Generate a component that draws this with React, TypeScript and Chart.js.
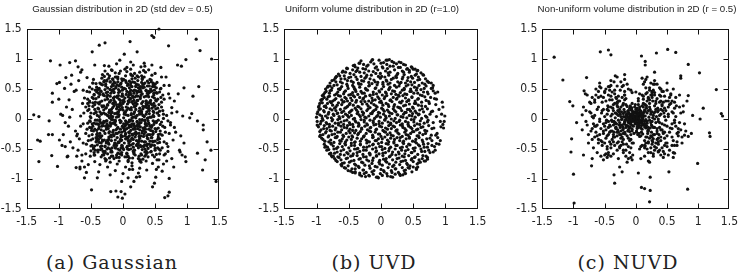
import React, { useEffect, useRef } from "react";
import { Chart, registerables } from "chart.js";

Chart.register(...registerables);

// ---------- data (hundredths, flat x,y pairs) ----------
const tickValues = [-1.5, -1, -0.5, 0, 0.5, 1, 1.5];
const tickLabels = ["-1.5", "-1", "-0.5", "0", "0.5", "1", "1.5"];
const titles = [
  "Gaussian distribution in 2D (std dev = 0.5)",
  "Uniform volume distribution in 2D (r=1.0)",
  "Non-uniform volume distribution in 2D (r = 0.5)",
];
const captions = ["(a) Gaussian", "(b) UVD", "(c) NUVD"];

const gaussianXY = [
  56,150, 45,139, 48,136, 11,129, -28,127, -37,123, -48,112, 2,108, 22,112, 71,122,
  114,133, 120,114, 138,100, -113,97, -98,90, -83,94, -74,97, -80,73, -64,82, -110,28,
  -100,33, -110,43, -103,59, -99,61, -91,51, -89,69, -139,7, -131,4, -97,8, -83,3,
  98,99, 91,88, 85,90, 118,54, 109,38, 95,52,
  -133,-35, -129,-37, -131,-71, -115,-3, -116,-26, -110,-26, -111,-61, -102,-79, -99,-35, -95,-44,
  -90,-46, -87,-63, -73,-81, -67,-80, -60,-98, -57,-89, -49,-118, -40,-98, -19,-121, -11,-120,
  -3,-121, -8,-130, -1,-132, 3,-125, -2,-104, 12,-113, 17,-104, 21,-97, 26,-96, 37,-85,
  46,-113, 49,-107, 51,-97, 65,-131, 70,-128, 72,-122, 72,-99, 89,-55, 92,-60, 97,-63,
  98,-71, 116,-57, 124,-85, 128,-68, 137,-52, 131,-38, 145,-104, 125,-10, 125,-18, 116,-3,
  104,2, 107,9,
  12,34, -23,5, 45,-12, -8,67, 31,21, -41,-33, 5,-6, 18,48, -55,14, 27,-44,
  -14,22, 63,8, -3,-27, 38,55, -29,71, 9,-51, 52,30, -62,-8, 16,3, -36,41,
  0,15, 44,-31, -18,-62, 71,42, -47,27, 23,-9, -9,38, 35,78, -71,-25, 57,-58,
  8,58, -25,-14, 29,12, -52,53, 66,-22, -12,-41, 42,66, -39,-52, 14,-73, 76,19,
  -5,-2, 19,27, -33,9, 48,4, -20,49, 3,83, -60,35, 33,-38, -15,-19, 59,51,
  24,-66, -44,-71, 11,45, -28,32, 49,-5, -7,12, 68,-41, -57,-42, 37,24, -1,-45,
  15,62, -38,17, 53,-68, -66,5, 6,-16, 28,87, -24,-35, 40,37, -49,-15, 21,-24,
  -11,54, 62,14, -31,-7, 2,29, 45,73, -56,69, -19,-55, 30,-1, -73,48, 13,9,
  7,-32, -27,58, 55,-26, -43,-2, 20,16, -6,76, 39,-49, -64,-60, 47,60, -16,4,
  34,-14, -53,22, 10,-84, 64,33, -35,-29, 26,50, -2,-22, 50,-37, -22,88, 17,-58,
  -9,20, 5,7, 22,-4, -17,11, 13,19, -4,31, 31,6, -26,-3, 9,40, 18,-15,
  -13,-8, 27,37, -21,28, 3,-12, 40,18, -34,-18, 11,-37, -7,44, 25,-29, -30,62,
  36,47, -46,-48, 58,-9, -10,-64, 43,26, -40,6, 1,51, 16,-47, -24,-58, 61,-48,
  -58,-24, 32,81, -16,67, 54,18, -3,-36, 7,25, -51,-62, 70,-3, -28,-45, 19,68,
  46,-20, -37,-39, 4,-3, 29,-60, -12,77, 41,9, -68,-33, 14,-25, -45,40, 60,28,
  -20,-6, 8,-69, 37,-45, -32,74, 52,44, -8,-14, 23,31, -55,-7, 0,-49, 33,70,
  -42,12, 17,-11, -26,19, 49,-63, -6,55, 26,-18, -63,26, 39,2, -14,-28, 12,83,
  65,-14, -50,-53, 21,58, -35,47, 6,-58, 44,-54, -18,3, 57,-33, -29,89, 10,-2,
  -61,10, 35,-9, -1,64, 24,-37, -41,-26, 53,61, -15,35, 28,-72, -54,-36, 74,-10,
  3,-19, -23,-48, 47,13, -47,60, 15,-84, -33,-12, 42,-26, -9,-75, 30,42, -70,-52,
  78,-35, -79,16, 84,12, -82,-38, 63,-75, -64,-70, 72,56, -76,46, 55,-80, -85,-12,
  80,30, -72,-62, 88,-52, -88,20, 67,70, -66,78, 82,-22, -78,-48, 59,86, -60,-80,
  76,-66, -90,-6, 93,5, -69,64, 70,-46, -84,32, 86,42, -74,-20, 64,-60, -81,58,
  90,-28, -93,-26, 73,35, -86,-62, 79,-80, -70,87, 61,-87, -67,-83, 95,-40, -94,6,
  0,-91, 12,95, -20,-93, 33,93, -38,-88, 45,90, -44,90, 24,-90, -5,98, 8,-98,
  2,10, -6,24, 14,2, -12,-4, 20,22, -2,38, 10,-10, -18,16, 28,14, 6,46,
  -10,3, 16,36, -24,40, 34,-2, -4,-6, 24,52, -30,10, 8,18, -16,-22, 36,30,
  0,26, 20,-26, -22,-30, 12,60, -36,28, 30,-20, -8,-40, 48,40, -40,-8, 4,72,
  26,8, -14,50, 38,-32, -28,-24, 18,-52, -42,34, 50,-16, -10,70, 22,44, -32,-60,
  44,-44, -20,62, 6,-30, 32,58, -46,-20, 14,28, -26,-68, 56,6, -2,-56, 40,-8,
  -8,8, 18,12, -20,-12, 10,32, 26,-6, -30,22, 4,-24, 34,20, -14,44, 16,-34,
  -36,-4, 28,46, -4,58, 42,-12, -18,-36, 22,-42, -48,50, 8,-62, 46,54, -38,-34,
  12,-50, -44,16, 54,-40, -24,6, 30,66, -6,-70, 40,46, -52,-14, 18,76, -12,-48,
  58,-20, -34,58, 24,-12, -16,26, 46,-60, -28,-54, 36,8, -50,2, 2,-16, 62,40,
  -4,16, 14,54, -26,-40, 38,-56, -40,48, 10,-44, 50,22, -20,-72, 28,-46, -56,46,
  6,86, 16,90, -10,92, 26,78, 40,82, -18,82, 50,76, -28,80, 34,88, 60,70,
  4,64, -4,80, 22,72, 44,62, -12,60, 12,48, 30,54, -22,68, 52,52, 64,56,
  -46,66, -52,28, -58,20, -62,48, -66,-12, -72,-28, -58,-58, 66,-58, 72,-24, 68,6,
  74,-6, 80,-14, 76,10, 64,-38, 58,-52, -44,-60, -36,-76, -24,-80, -12,-86, 4,-80,
  14,-78, 26,-82, 36,-70, 46,-74, 56,-68, -54,-76, -62,-40, 70,-54, 68,-70, 52,-84,
  3,12, -14,31, 22,-5, -27,18, 9,44, 35,-17, -6,-22, 16,25, -38,-9, 28,40,
  -19,6, 40,15, -2,-35, 13,-13, -31,42, 52,-6, 7,56, -44,24, 24,-40, -10,17,
  31,29, -23,-16, 1,2, 46,37, -35,-31, 18,61, -51,4, 37,-28, -15,49, 6,-47,
  -4,27, 26,9, -29,-5, 11,35, 43,-19, -18,54, 60,20, -40,-43, 20,-22, -8,70,
  15,-3, -33,30, 49,48, -12,-48, 33,5, -48,-26, 5,20, 38,63, -25,65, 57,-39,
  -1,-12, 21,47, -42,11, 10,-28, 32,-45, -20,38, 54,33, -9,-31, 44,3, -55,33,
  8,30, -26,-38, 35,21, -16,-7, 62,-12, -37,51, 17,-8, -5,46, 28,-58, -47,-12,
  41,55, -13,9, 12,-19, -30,-20, 48,26, 0,38, -21,72, 25,13, -39,-55, 14,67,
  -7,4, 19,-30, -34,8, 53,10, -17,-55, 36,48, -45,41, 2,-40, 27,-13, -24,23,
  11,16, -36,-1, 39,-33, -3,60, 22,31, -50,-35, 47,-24, -11,-18, 6,79, -28,-66,
  30,-2, -14,62, 45,18, -22,-42, 17,43, -41,-19, 58,50, 4,-25, -32,57, 34,-50,
  -9,36, 23,-16, -27,8, 50,-52, 13,73, -53,16, 29,-37, -2,-60, 42,29, -19,-27,
  7,-6, -38,37, 31,58, -12,-35, 55,-30, -24,52, 19,4, -46,-50, 37,12, -3,23,
  16,-41, -31,-11, 63,1, -7,49, 25,-24, -43,28, 9,-14, 44,65, -16,-62, 2,8,
  -35,-46, 27,34, -5,-52, 48,-9, -20,14, 34,-62, -49,-19, 12,56, 59,36, -26,44,
  20,2, -10,-44, 41,44, -33,-28, 5,61, 26,-70, -52,45, 38,-42, -14,26, 51,17,
  -4,-17, 18,20, -29,64, 46,-26, -40,-2, 8,-71, 33,53, -18,-53, 54,-48, -1,42,
  14,-33, -22,-23, 36,30, -8,11, 29,72, -45,-60, 10,-4, -34,46, 47,6, -13,-5,
  22,25, -28,-46, 3,-28, 40,-7, -17,81, 61,-27, -39,18, 15,38, -6,-64, 32,-19,
  -11,52, 24,-48, -41,-37, 9,28, 50,58, -23,-11, 35,-38, -52,-3, 1,66, 43,-55,
  13,7, -15,-26, 27,50, -32,20, 44,-14, -7,-38, 19,-60, -47,60, 39,40, -25,-50,
  5,-9, 31,17, -19,43, 55,-2, -36,-24, 12,75, -2,-44, 26,-32, -44,-45, 16,47,
  -12,-2, 37,-11, -24,33, 6,-57, 48,43, -30,-59, 21,-44, -55,26, 34,60, -6,7,
  28,-6, -16,58, 42,-37, -38,-16, 10,52, -27,-70, 56,24, -9,-24, 17,-52, -33,68,
  -1,19, 24,57, -42,-8, 33,-25, -12,70, 52,-17, -22,-34, 8,-36, -50,10, 40,22,
  18,-24, -6,33, 38,1, -31,-54, 14,29, -46,34, 30,-51, -20,62, 57,45, -3,-48,
  9,-40, -34,-40, 45,-43, -14,45, 23,64, -40,-30, 2,-20, 36,38, -25,-8, 60,-5,
  -8,-57, 32,-29, -18,-1, 47,57, -29,39, 15,-65, -48,-44, 26,18, -2,53, 39,-63,
  12,41, -37,25, 54,-34, -21,-65, 4,12, 30,68, -11,-10, 43,-46, -32,-35, 21,-36,
  -16,19, 7,-50, 48,11, -27,55, 35,-22, -53,-28, 0,30, 25,-9, -42,59, 16,-17,
  4,50, -21,2, 36,-53, -13,-40, 51,31, -34,-63, 20,54, -45,-7, 11,-11, 31,-67,
  -26,-17, 43,46, -6,15, 17,-56, -39,50, 56,-50, -15,35, 29,26, -56,-17, 8,-31,
  23,-44, -10,24, 40,-17, -30,-4, 6,-63, 47,-38, -20,49, 33,4, -43,-52, 13,15,
  -3,-30, 27,-68, -36,12, 49,54, -17,-48, 19,37, -47,-33, 39,-3, 1,-8, -24,75,
  34,-43, -8,62, 10,-23, -33,-50, 52,-59, -19,9, 24,46, -41,45, 45,-31, 3,35,
  -21,15, 14,-8, 33,37, -9,-16, 47,-3, -37,4, 5,41, 25,-35, -28,49, 18,22,
  -3,-4, 39,27, -18,-30, 10,63, -44,-17, 29,9, -12,28, 51,-21, -33,-45, 2,51,
  21,-12, -7,39, 43,50, -25,-3, 13,-43, -48,36, 35,-7, -1,-29, 24,70, -40,-24,
  8,6, -15,56, 57,13, -29,-35, 17,31, -5,-58, 41,-42, -36,60, 27,45, -19,-9,
  -10,10, 30,-23, -24,24, 49,35, 4,-33, -42,-38, 15,72, -51,-4, 37,19, -14,-66,
  26,-1, -31,40, 9,-22, 53,43, -20,-50, 1,32, 44,-11, -45,9, 20,55, -6,-39,
  32,-46, -17,47, 6,15, -38,-28, 55,-15, -26,63, 16,-54, -4,23, 40,60, -50,-45,
  12,-2, -34,-7, 23,38, -8,-50, 46,-37, -22,11, 36,26, -43,48, 3,-63, 28,-28,
  -13,37, 42,3, -30,-60, 19,-17, -2,67, 50,-49, -39,27, 11,44, -23,-39, 31,52,
  -16,-1, 7,-45, 45,24, -35,-51, 22,6, -9,57, 58,-25, -47,21, 14,-32, -27,-12,
  38,43, -11,-24, 25,-62, -41,53, 0,-14, 34,-55, -19,31, 48,21, -32,-37, 17,9,
  -6,20, 29,61, -37,-13, 10,-65, 52,-4, -24,45, 2,-18, 39,-26, -48,-8, 21,39,
  -14,-44, 43,31, -30,15, 6,-8, 27,54, -45,-56, 15,-27, -1,48, 36,-59, -21,-21,
  -33,22, 11,-36, 54,10, -16,66, 31,-15, -52,30, 8,37, -28,-56, 45,47, 1,-51,
  20,27, -42,-31, 34,-3, -10,-60, 49,-44, -25,37, 13,-10, -4,-34, 41,14, -38,43,
];

const uvdXY = [
  -41,90, -33,93, -27,91, -16,95, -11,92, -3,98, 4,94, 9,91, 17,96, 24,92, 31,94, 38,90,
  -59,80, -53,85, -44,82, -40,87, -37,81, -28,84, -22,88, -19,80, -9,85, -5,82, 2,87, 7,80,
  10,84, 19,88, 21,82, 30,86, 33,80, 41,84, 44,81, 50,83, 56,80,
  -70,70, -66,75, -57,72, -55,78, -47,70, -42,74, -39,79, -31,71, -26,77, -23,70, -15,73, -12,79,
  -4,71, -1,76, 6,70, 12,73, 14,78, 23,71, 26,76, 34,70, 36,74, 44,78, 47,71, 55,75, 58,70, 66,73,
  -79,60, -73,65, -70,62, -62,67, -60,60, -52,64, -50,69, -43,61, -37,66, -35,60, -27,63, -25,68,
  -19,61, -11,65, -9,62, -1,68, 3,61, 8,65, 14,60, 16,66, 24,69, 26,62, 33,67, 38,60, 41,64,
  49,68, 52,61, 60,66, 64,60, 72,63,
  -86,50, -79,55, -76,52, -68,57, -66,50, -61,54, -53,58, -51,51, -44,56, -41,50, -33,53, -31,58,
  -24,51, -19,55, -14,59, -8,52, -6,57, 1,50, 4,54, 11,58, 13,51, 21,56, 24,53, 29,59, 36,51,
  39,55, 46,50, 48,57, 56,52, 59,56, 67,51, 70,55, 80,52,
  -89,41, -85,46, -80,43, -77,48, -72,40, -67,45, -64,49, -58,42, -55,47, -50,40, -44,44, -40,49,
  -36,41, -31,46, -26,43, -21,48, -17,40, -12,45, -7,42, -3,47, 2,40, 7,45, 12,49, 16,42, 21,46,
  27,40, 30,44, 36,49, 40,41, 45,46, 51,43, 55,48, 61,40, 66,45, 73,42, 81,47,
  -93,31, -88,36, -84,33, -80,38, -75,30, -70,34, -66,39, -61,32, -56,36, -52,30, -47,35, -43,39,
  -38,31, -33,36, -28,33, -24,38, -19,30, -14,35, -9,32, -5,37, 0,30, 5,34, 9,39, 14,31, 19,36,
  24,33, 28,38, 33,30, 38,35, 43,32, 48,37, 53,30, 58,34, 64,39, 70,31, 77,36, 86,33,
  -96,22, -91,27, -88,21, -83,26, -79,29, -75,23, -70,20, -66,27, -61,24, -57,29, -52,21, -48,26,
  -43,23, -39,28, -34,20, -29,25, -25,29, -20,22, -15,27, -11,24, -6,20, -2,28, 3,23, 8,26, 12,21,
  17,29, 21,24, 26,20, 31,27, 35,22, 40,29, 44,25, 49,20, 54,26, 58,23, 63,28, 69,21, 75,26, 85,24,
  -98,12, -94,17, -89,14, -85,19, -81,11, -76,15, -72,18, -67,10, -63,16, -58,13, -54,19, -49,11,
  -45,15, -40,18, -36,12, -31,17, -27,10, -22,14, -17,19, -13,12, -8,16, -4,11, 1,18, 5,13, 10,15,
  14,10, 19,17, 23,12, 28,19, 32,14, 37,11, 41,16, 46,13, 50,18, 55,10, 60,15, 66,12, 72,17, 80,13, 90,16,
  -100,3, -95,7, -91,1, -86,5, -82,8, -77,2, -73,6, -68,9, -64,1, -59,4, -55,8, -50,3, -46,6, -41,1,
  -37,9, -32,4, -28,7, -23,2, -19,5, -14,9, -10,1, -5,6, -1,3, 4,8, 8,2, 13,5, 17,9, 22,1, 26,7,
  31,4, 35,8, 40,2, 44,6, 49,9, 53,3, 58,7, 63,1, 69,5, 76,8, 86,4,
  -99,-4, -94,-8, -90,-2, -85,-6, -80,-9, -76,-3, -71,-7, -67,-1, -62,-5, -58,-9, -53,-2, -49,-6,
  -44,-9, -40,-3, -35,-7, -31,-1, -26,-5, -22,-8, -17,-2, -12,-6, -8,-9, -3,-4, 2,-7, 6,-1, 11,-5,
  15,-9, 20,-3, 24,-6, 29,-2, 33,-8, 38,-4, 42,-9, 47,-1, 51,-5, 56,-8, 61,-3, 67,-7, 73,-2, 81,-6, 92,-4,
  -97,-13, -93,-18, -88,-11, -84,-16, -79,-19, -75,-12, -70,-15, -66,-10, -61,-18, -57,-14, -52,-11,
  -48,-17, -43,-13, -39,-19, -34,-10, -30,-15, -25,-12, -21,-18, -16,-14, -11,-10, -7,-17, -2,-12,
  3,-19, 7,-15, 12,-11, 16,-16, 21,-13, 25,-18, 30,-10, 34,-14, 39,-19, 43,-12, 48,-16, 52,-11,
  57,-17, 62,-14, 68,-19, 74,-11, 82,-15, 93,-13,
  -95,-21, -90,-26, -86,-23, -81,-28, -77,-20, -72,-25, -68,-29, -63,-22, -59,-27, -54,-24, -50,-20,
  -45,-28, -41,-23, -36,-26, -32,-21, -27,-29, -23,-24, -18,-20, -13,-27, -9,-22, -4,-25, 0,-29,
  5,-21, 10,-26, 14,-23, 19,-28, 23,-20, 28,-25, 33,-29, 37,-22, 42,-27, 46,-24, 51,-21, 56,-28,
  60,-23, 65,-26, 71,-20, 78,-27, 87,-24,
  -92,-32, -87,-37, -82,-30, -78,-35, -73,-39, -69,-31, -64,-36, -60,-33, -55,-38, -50,-30, -46,-34,
  -41,-39, -37,-32, -32,-37, -27,-30, -23,-35, -18,-38, -13,-31, -9,-36, -4,-33, 1,-39, 6,-30,
  10,-35, 15,-32, 20,-38, 25,-31, 29,-36, 34,-39, 39,-33, 44,-30, 49,-37, 54,-34, 59,-31, 65,-38,
  71,-33, 79,-36, 88,-31,
  -88,-42, -83,-47, -78,-40, -74,-45, -69,-49, -64,-41, -60,-46, -55,-43, -50,-48, -46,-40, -41,-44,
  -36,-49, -32,-42, -27,-47, -22,-40, -18,-45, -13,-43, -8,-48, -4,-41, 1,-46, 6,-49, 11,-42,
  15,-47, 20,-40, 25,-44, 30,-48, 35,-41, 40,-46, 45,-43, 50,-49, 55,-40, 60,-45, 66,-42, 72,-47,
  79,-44, 86,-41,
  -84,-52, -78,-57, -73,-50, -68,-55, -63,-59, -58,-51, -53,-56, -48,-53, -43,-58, -38,-50, -33,-54,
  -28,-59, -23,-52, -18,-57, -13,-50, -8,-55, -3,-58, 2,-51, 7,-56, 12,-53, 17,-59, 22,-50,
  27,-55, 32,-52, 37,-58, 42,-51, 47,-56, 52,-53, 57,-59, 62,-50, 68,-54, 74,-52, 81,-55,
  -77,-61, -72,-66, -67,-63, -62,-68, -57,-60, -52,-65, -47,-62, -42,-69, -37,-61, -32,-66, -27,-63,
  -22,-68, -17,-60, -12,-65, -7,-62, -2,-69, 3,-61, 8,-66, 13,-63, 18,-68, 23,-60, 28,-65,
  33,-62, 38,-69, 43,-61, 48,-66, 53,-63, 59,-68, 65,-61, 72,-64,
  -68,-71, -62,-76, -57,-73, -51,-78, -46,-70, -41,-75, -35,-79, -30,-72, -25,-77, -19,-70, -14,-74,
  -9,-79, -3,-72, 2,-77, 7,-70, 13,-75, 18,-79, 23,-72, 29,-76, 34,-70, 40,-74, 45,-78, 50,-71,
  56,-75, 61,-72, 67,-70,
  -57,-81, -51,-86, -45,-83, -40,-88, -34,-81, -28,-85, -23,-89, -17,-82, -11,-86, -6,-80, 0,-84,
  5,-88, 11,-81, 16,-86, 22,-83, 27,-89, 33,-81, 38,-85, 44,-82, 50,-80, 55,-84,
  -40,-90, -33,-93, -26,-91, -18,-95, -12,-92, -5,-97, 2,-94, 9,-91, 15,-96, 22,-92, 30,-94, 37,-90,
  99,5, 97,-15, 95,28, 92,-36, 88,45, 84,-52, 78,60, 72,-67, 65,74, 57,-80, 48,86, 38,-91,
  28,95, 18,-97, 8,98, -4,-98, -14,98, -24,-96, -34,93, -44,-89, -53,84, -61,-78, -69,71, -76,-63,
  -82,55, -87,-47, -91,39, -95,-29, -97,20, -99,-10, 98,-4, 96,20, 90,-42, 81,56, 69,-70, 53,83,
  34,-93, 13,99, -30,-95, -60,78, -80,-58, -93,32,
  -52,84, -43,89, -36,85, -31,97, -20,90, -24,83, -13,99, -7,87, 0,93, 3,85, 10,98, 14,88,
  20,94, 27,86, 35,91, 40,83, 47,87, 57,81,
  -76,64, -71,68, -64,72, -63,62, -56,67, -48,76, -46,63, -39,70, -33,78, -30,64, -22,73, -17,67,
  -8,76, -5,61, 1,71, 9,63, 11,77, 19,68, 25,74, 31,61, 35,78, 42,69, 46,62, 53,73, 57,65, 62,77,
  69,67, 74,61,
  -87,44, -83,53, -79,47, -73,56, -69,42, -63,51, -57,45, -52,55, -47,41, -42,53, -39,46, -34,58,
  -29,43, -23,49, -18,56, -12,41, -9,51, -2,45, 3,58, 8,43, 14,53, 18,47, 23,41, 28,55, 33,48,
  37,42, 42,57, 47,46, 52,53, 57,43, 62,49, 68,58, 72,45, 78,51, 84,43,
  -95,26, -91,33, -86,22, -82,37, -77,27, -72,32, -68,23, -63,38, -59,28, -54,34, -49,24, -45,31,
  -41,37, -36,21, -31,29, -27,35, -22,25, -17,39, -13,31, -8,22, -3,34, 1,27, 6,37, 11,24, 15,32,
  20,21, 25,35, 29,28, 34,39, 38,23, 43,31, 48,36, 52,26, 57,33, 63,22, 68,37, 74,29, 83,34,
  -99,9, -96,16, -92,5, -88,12, -83,2, -79,17, -74,8, -70,14, -65,4, -61,11, -56,18, -52,6,
  -47,13, -43,0, -38,15, -34,7, -29,12, -25,3, -20,17, -16,9, -11,14, -7,4, -2,10, 3,16, 7,5,
  12,12, 16,0, 21,14, 25,7, 30,18, 34,3, 39,11, 44,16, 48,5, 53,13, 59,8, 64,17, 71,3, 78,12, 94,8,
  -98,-11, -93,-4, -89,-16, -84,-8, -80,-13, -75,-1, -71,-18, -66,-7, -62,-12, -57,-3, -53,-15,
  -48,-9, -44,-19, -39,-5, -35,-12, -30,-17, -26,-2, -21,-10, -17,-15, -12,-3, -8,-18, -3,-8,
  1,-13, 6,-2, 10,-17, 15,-7, 19,-12, 24,-19, 28,-4, 33,-11, 37,-16, 42,-6, 46,-14, 51,-1,
  55,-18, 60,-9, 65,-13, 72,-5, 79,-16, 96,-9,
  -94,-27, -90,-34, -85,-21, -81,-38, -76,-26, -71,-31, -67,-22, -62,-37, -58,-29, -53,-35, -48,-23,
  -44,-30, -40,-38, -35,-24, -30,-33, -26,-28, -21,-37, -16,-21, -12,-30, -7,-36, -2,-25, 2,-33,
  7,-22, 12,-38, 16,-27, 21,-34, 26,-23, 30,-31, 35,-37, 39,-26, 44,-32, 49,-21, 53,-38, 58,-28,
  64,-35, 69,-24, 76,-32, 85,-27,
  -86,-45, -81,-51, -77,-42, -72,-57, -67,-47, -62,-53, -56,-41, -51,-58, -46,-44, -41,-50, -37,-56,
  -32,-43, -27,-52, -22,-47, -17,-58, -12,-42, -7,-53, -2,-46, 3,-57, 8,-41, 13,-49, 18,-55,
  23,-44, 28,-58, 33,-47, 38,-53, 43,-42, 48,-56, 53,-48, 58,-43, 63,-54, 67,-47, 73,-41, 76,-56, 83,-46,
  -74,-62, -70,-69, -65,-64, -60,-74, -54,-66, -49,-72, -44,-61, -39,-77, -34,-67, -28,-73, -23,-63,
  -18,-78, -13,-69, -7,-61, -2,-75, 4,-67, 9,-72, 14,-62, 20,-77, 25,-66, 31,-71, 36,-63,
  41,-76, 47,-68, 52,-64, 58,-73, 64,-66, 70,-62,
  -55,-82, -47,-87, -40,-83, -33,-90, -27,-85, -19,-94, -14,-88, -7,-97, -1,-91, 4,-86, 10,-95,
  17,-89, 23,-83, 29,-92, 36,-86, 42,-81, 48,-88, 55,-82,
];

const nuvdXY = [
  -131,103, -117,65, -106,29, -101,22, -103,-33, -104,-55, -100,-92, -99,-140, -84,-60, -95,-6,
  -71,-78, -86,7, -81,42, -83,47, -79,69, -57,112, -44,115, -40,107, -33,72, 9,105,
  15,96, 15,90, 33,110, 51,116, 64,111, 72,72, 72,68, 84,91, 102,77, 84,39,
  108,18, 91,6, 103,0, 129,49, 137,9, 139,5, 118,-23, 119,-29, 78,-27, 84,-29,
  89,-24, 68,-16, 99,-74, 83,-117, 53,-88, 62,-57, 22,-138, 9,-114, 14,-116, 23,-119,
  23,-97, -34,-107, -22,-88, -35,-93, 4,-90,
  0,0, -5,3, 4,-6, -10,-2, 7,8, -3,12, 11,-1, -14,6, 2,-13, -8,-9,
  15,5, -18,-4, 6,16, -12,14, 9,-11, -20,9, 13,12, -6,-17, 18,-7, -2,20,
  -16,-14, 3,5, -7,-5, 10,2, -1,-8, -11,10, 5,-3, -4,7, 8,13, -15,0,
  20,14, -22,-10, 1,-20, -24,4, 16,-15, -9,22, 12,20, -19,16, 22,-2, -13,-20,
  -26,-6, 4,24, -3,-24, 24,8, -21,-18, 17,18, -27,12, 9,-22, -6,26, 19,-20,
  -1,3, 3,-1, -4,-3, 6,4, -7,1, 1,9, -9,5, 5,-10, -2,-5, 8,-4,
  -12,-6, 11,7, -5,11, 2,-16, -17,3, 14,-4, -8,15, 7,11, -14,-11, 0,16,
  -23,-1, 13,-9, -10,18, 21,3, -18,12, 3,-26, -28,-2, 18,10, -25,-14, 10,22,
  -30,8, 25,-10, -20,-24, 15,24, -29,-18, 23,16, -16,24, 6,-29, -24,20, 27,2,
  -2,-2, 2,2, -6,6, 6,-7, -11,2, 10,-5, -4,-12, 4,10, -9,-14, 12,4,
  -15,8, 8,-15, -19,-8, 17,-11, -7,19, 14,15, -22,0, 1,-22, -12,-18, 20,-14,
  -1,24, -26,16, 11,-25, -31,-8, 26,12, -18,-22, 19,-24, -8,-26, 22,20, -33,2,
  -5,-1, 1,-3, -3,5, 5,1, -8,-4, 4,-8, -10,8, 7,6, -13,-3, 9,-7,
  -6,14, 12,9, -16,-10, 2,18, -20,4, 16,-1, -11,-15, 10,-17, -23,12, 15,13,
  -27,-10, 24,-6, -14,21, 5,-24, -29,14, 20,-18, -17,-25, 13,25, -32,-14, 28,6,
  -3,1, 0,-5, -7,8, 3,7, -9,-7, 7,-2, -12,3, 0,12, -5,-11, 11,1,
  -17,-2, 9,5, -13,13, 4,-14, -21,-13, 18,-4, -10,-21, 14,-13, -25,8, 6,20,
  -35,-4, 23,-15, -24,-20, 17,22, -33,10, 26,-12, -21,23, 8,-28, -30,-22, 29,10,
  -4,4, 2,-9, -10,-1, 8,8, -14,9, 5,-13, -18,-6, 12,-9, -7,17, 1,6,
  -8,2, 6,-4, -2,10, -12,-12, 10,10, -16,5, 3,14, -6,-20, 14,-8, -20,-16,
  35,12, -40,5, 28,-33, -36,-30, 10,40, -15,-42, 42,-8, -45,22, 20,36, -28,38,
  38,28, -50,-12, 32,-40, -42,-38, 0,45, -8,-48, 46,18, -48,30, 26,44, -34,-44,
  44,-24, -55,10, 15,-45, -25,48, 52,4, -38,45, 40,38, -52,-24, 6,-50, 33,-48,
  -58,-4, 48,30, -20,-52, 22,52, -46,-46, 55,-15, -60,20, 36,-55, -30,55, 58,12,
  -62,-28, 12,58, -5,-60, 50,-40, -56,38, 40,50, -44,-56, 62,-6, -66,6, 28,-62,
  -35,62, 65,22, -70,-16, 8,-66, -18,66, 56,42, -64,40, 46,-58, -50,-60, 68,-28,
  30,22, -32,-14, 24,-28, -26,30, 32,-6, -37,18, 18,30, -20,-34, 34,-20, -42,-10,
  27,30, -30,-28, 4,34, -10,-36, 38,6, -40,-20, 30,-14, -34,26, 14,-36, -24,-32,
  36,-32, -46,8, 20,-40, -18,40, 42,24, -44,-26, 6,42, -4,-40, 40,-18, -38,32,
  48,-2, -52,16, 30,40, -36,-38, 18,-50, -12,50, 50,-28, -56,-16, 26,46, -26,-48,
  58,30, -60,-40, 44,46, -48,50, 60,-36, -68,-8, 34,58, -40,-62, 64,4, -72,26,
  70,40, -76,-26, 18,70, -14,-72, 72,-18, -58,60, 52,-60, -62,-56, 76,12, -80,-4,
  25,-22, -29,20, 31,12, -33,-6, 22,26, -24,-26, 30,0, -32,10, 16,-30, -18,32,
  28,-26, -28,-22, 35,18, -39,-2, 26,36, -22,36, 38,-14, -44,14, 10,-44, -6,44,
  45,10, -48,-32, 36,-42, -44,40, 54,-22, -58,0, 24,-56, -20,56, 46,38, -54,-44,
  64,-12, -66,32, 40,-60, -46,-64, 70,20, -74,12, 20,-70, -30,70, 60,50, -68,-48,
  80,-20, -84,20, 74,-40, -78,40, 30,78, -26,-80, 82,30, -86,-18, 60,-64, -70,-66,
  42,-48, -40,56, 56,26, -62,-10, 14,62, -8,-64, 50,48, -56,52, 66,-44, -70,-34,
  33,4, -35,-22, 12,33, -8,-34, 37,-26, -31,34, 27,-38, -41,-12, 43,14, -47,-2,
  52,20, -54,28, 40,-30, -50,-40, 22,48, -16,-52, 58,-8, -60,36, 30,-52, -42,54,
  18,-30, -28,30, 34,-16, -38,-20, 12,38, -6,-40, 40,16, -36,14, 26,-36, -16,34,
  22,32, -34,-8, 30,-26, -22,-38, 4,30, -12,-32, 36,-4, -30,22, 16,-40, -26,-26,
  44,28, -44,-4, 14,-44, -18,46, 50,-12, -42,32, 34,34, -48,-18, 8,-46, 40,-36,
  -50,4, 42,22, -26,-46, 28,48, -40,-42, 46,-22, -54,14, 30,-46, -34,42, 52,8,
  24,12, -24,-10, 20,-20, -20,26, 26,-4, -28,6, 12,26, -14,-28, 28,-14, -32,-16,
  38,40, -46,-28, 48,-40, -52,36, 16,52, -10,-56, 54,24, -56,-36, 36,-54, -42,48,
  62,18, -64,-22, 24,60, -16,-62, 58,-44, -60,46, 44,-54, -48,-58, 66,-24, -72,10,
  32,16, -36,-26, 22,-32, -30,28, 36,0, -38,-4, 20,34, -22,-30, 34,-24, -40,20,
  46,4, -46,16, 26,40, -30,-40, 14,-48, -8,48, 46,-32, -52,-8, 30,44, -24,-44,
  54,36, -58,-26, 40,50, -44,54, 58,-30, -66,-12, 30,58, -36,-58, 62,-2, -66,28,
  48,14, -52,-20, 36,-38, -40,38, 20,-56, -14,58, 58,-16, -62,16, 42,46, -30,-52,
  28,58, -46,-50, 62,28, -60,-34, 14,-62, -24,62, 50,-46, -68,2, 44,-22, -34,48,
  70,-6, -72,-20, 24,-48, -20,-56, 56,40, -50,46, 38,-52, -44,-60, 66,-38, -58,54,
  32,26, -38,-34, 40,8, -44,20, 18,44, -12,-46, 46,-10, -48,-6, 26,-42, -32,36,
  54,-52, -66,-30, 30,64, -28,-66, 64,36, -70,36, 10,68, -6,-68, 60,-56, -56,-62,
  76,22, -78,-10, 22,-72, -18,74, 74,-30, -74,28, 50,60, -52,-68, 78,-8, -80,14,
  40,30, -42,-22, 34,-34, -36,24, 24,40, -20,-42, 42,-18, -44,-14, 16,42, -28,-38,
  52,30, -54,-38, 46,-44, -50,44, 28,-58, -22,54, 60,10, -64,-12, 38,52, -40,-48,
  68,-22, -70,4, 16,66, -12,-66, 72,10, -76,-40, 44,-64, -40,64, 62,-44, -64,50,
  36,14, -36,-10, 26,-30, -30,26, 32,30, -34,-30, 38,-6, -38,8, 20,-38, -18,40,
];

const seriesXY = [gaussianXY, uvdXY, nuvdXY];

// ---------- layout / style ----------
const CANVAS_W = 248;
const CANVAS_H = 235;
const PLOT_TOP = 29;
const PLOT_BOTTOM = 209;
const panels = [
  { left: 0, axisW: 26.7, padR: 28.7, titleCenter: 122.5, capCenter: 112 },
  { left: 248, axisW: 36.3, padR: 18.3, titleCenter: 372, capCenter: 374 },
  { left: 496, axisW: 46.3, padR: 9, titleCenter: 637, capCenter: 628 },
];
const NARROW = "'Liberation Sans Narrow', 'DejaVu Sans Condensed', 'Liberation Sans', sans-serif";

function toPoints(flat: number[]) {
  const out: { x: number; y: number }[] = [];
  for (let i = 0; i + 1 < flat.length; i += 2) out.push({ x: flat[i] / 100, y: flat[i + 1] / 100 });
  return out;
}

const framePlugin = {
  id: "frameTicks",
  afterDatasetsDraw(chart: any) {
    const { ctx, chartArea: a, scales } = chart;
    const L = Math.round(a.left) + 0.5;
    const R = Math.round(a.right) - 0.5;
    const T = Math.round(a.top) + 0.5;
    const B = Math.round(a.bottom) - 0.5;
    const len = 5;
    ctx.save();
    ctx.strokeStyle = "#111";
    ctx.lineWidth = 1;
    ctx.beginPath();
    for (const t of scales.x.ticks) {
      if (t.value <= -1.5 || t.value >= 1.5) continue;
      const px = Math.round(scales.x.getPixelForValue(t.value)) + 0.5;
      ctx.moveTo(px, B);
      ctx.lineTo(px, B - len);
      ctx.moveTo(px, T);
      ctx.lineTo(px, T + len);
    }
    for (const t of scales.y.ticks) {
      if (t.value <= -1.5 || t.value >= 1.5) continue;
      const py = Math.round(scales.y.getPixelForValue(t.value)) + 0.5;
      ctx.moveTo(L, py);
      ctx.lineTo(L + len, py);
      ctx.moveTo(R, py);
      ctx.lineTo(R - len, py);
    }
    ctx.stroke();
    ctx.strokeRect(L, T, R - L, B - T);
    ctx.restore();
  },
};

function Panel({ idx }: { idx: number }) {
  const ref = useRef<HTMLCanvasElement | null>(null);
  const p = panels[idx];
  useEffect(() => {
    if (!ref.current) return;
    const tickCfg = {
      autoSkip: false,
      maxRotation: 0,
      color: "#222",
      font: { family: NARROW, size: 12 },
      callback: (v: any) => {
        const k = tickValues.indexOf(Number(v));
        return k >= 0 ? tickLabels[k] : "";
      },
    };
    const setTicks = (s: any) => {
      s.ticks = tickValues.map((v) => ({ value: v }));
    };
    const chart = new Chart(ref.current, {
      type: "scatter",
      data: {
        datasets: [
          {
            data: toPoints(seriesXY[idx]),
            pointRadius: 1.6,
            pointHoverRadius: 1.6,
            pointBackgroundColor: "#111",
            pointBorderWidth: 0,
            borderWidth: 0,
            showLine: false,
            clip: false as any,
          },
        ],
      },
      options: {
        animation: false,
        responsive: false,
        events: [],
        layout: { padding: { left: 0, right: p.padR, top: PLOT_TOP, bottom: 0 } },
        plugins: {
          legend: { display: false },
          tooltip: { enabled: false },
          title: { display: false },
        },
        scales: {
          x: {
            type: "linear",
            min: -1.5,
            max: 1.5,
            afterBuildTicks: setTicks,
            afterFit: (s: any) => {
              s.height = CANVAS_H - PLOT_BOTTOM;
            },
            ticks: { ...tickCfg, padding: 6 },
            grid: { display: false, drawTicks: false },
            border: { display: false },
          },
          y: {
            type: "linear",
            min: -1.5,
            max: 1.5,
            afterBuildTicks: setTicks,
            afterFit: (s: any) => {
              s.width = p.axisW;
            },
            ticks: { ...tickCfg, padding: 5 },
            grid: { display: false, drawTicks: false },
            border: { display: false },
          },
        },
      },
      plugins: [framePlugin],
    } as any);
    return () => chart.destroy();
  }, [idx]);
  return (
    <canvas
      ref={ref}
      width={CANVAS_W}
      height={CANVAS_H}
      style={{ position: "absolute", left: p.left, top: 0, width: CANVAS_W, height: CANVAS_H }}
    />
  );
}

export default function App() {
  return (
    <div style={{ position: "absolute", left: 0, top: 0, width: 744, height: 279, background: "#fff", overflow: "hidden" }}>
      {panels.map((p, i) => (
        <Panel key={i} idx={i} />
      ))}
      {panels.map((p, i) => (
        <div
          key={"t" + i}
          style={{
            position: "absolute",
            left: p.titleCenter - 130,
            width: 260,
            top: 3,
            textAlign: "center",
            fontFamily: "'Liberation Sans', Arial, sans-serif",
            fontSize: 9.7,
            lineHeight: "12px",
            color: "#222",
            whiteSpace: "nowrap",
          }}
        >
          {titles[i]}
        </div>
      ))}
      {panels.map((p, i) => (
        <div
          key={"c" + i}
          style={{
            position: "absolute",
            left: p.capCenter - 100,
            width: 200,
            top: 253,
            textAlign: "center",
            fontFamily: "'DejaVu Serif', 'Liberation Serif', serif",
            fontSize: 19,
            lineHeight: "19px",
            letterSpacing: "1px",
            color: "#222",
            whiteSpace: "nowrap",
          }}
        >
          {captions[i]}
        </div>
      ))}
    </div>
  );
}
